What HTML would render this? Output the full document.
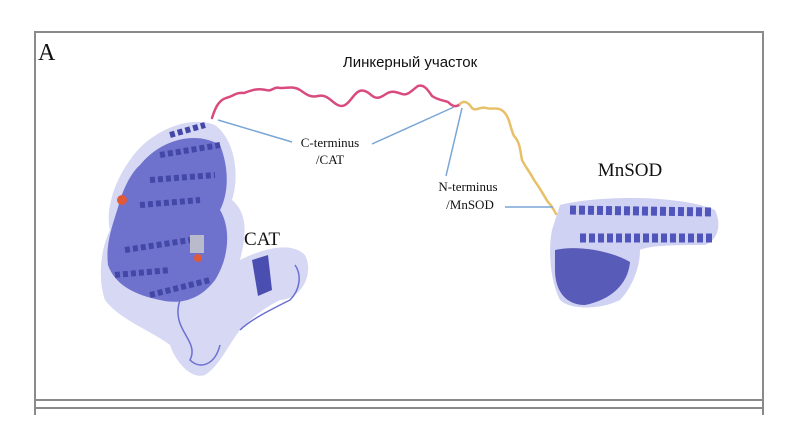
<!DOCTYPE html>
<html><head><meta charset="utf-8"><style>
body{margin:0;background:#fff;}
svg{display:block;}
</style></head><body>
<svg width="804" height="448" viewBox="0 0 804 448">
<rect width="804" height="448" fill="#fff"/>
<g fill="none" stroke="#8a8a8a" stroke-width="2">
<path d="M35,32 H763 M35,31 V415 M763,31 V415 M35,400 H763 M35,408 H763" />
</g>
<text x="38" y="60" font-family="Liberation Serif, serif" font-size="24" fill="#111">A</text>
<text x="410" y="67" text-anchor="middle" font-family="Liberation Sans, sans-serif" font-size="15" fill="#111">Линкерный участок</text>

<g fill="none" stroke-width="2.5" stroke-linecap="round">
<path stroke="#d94a7e" d="M212,118 C216,105 220,100 226,98 C234,96 236,92 244,93 C252,90 258,88 266,90 C272,92 274,86 280,88 C288,88 294,86 300,90 C306,94 310,98 318,96 C326,94 330,100 336,104 C342,108 346,106 352,98 C358,90 362,88 370,94 C376,100 380,98 386,94 C392,90 396,92 402,94 C408,96 412,90 418,86 C424,84 428,90 432,96 C438,100 442,100 448,102 C452,106 456,108 460,104"/>
<path stroke="#e8c06a" d="M460,104 C464,100 468,102 472,108 C476,112 480,106 486,108 C492,110 498,106 504,112 C510,118 510,128 514,136 C520,142 520,150 522,160 C526,168 530,172 534,180 C540,188 544,196 548,202 C552,206 554,210 556,214"/>
</g>

<g stroke="#7aa6d6" stroke-width="1.5" fill="none">
<path d="M218,120 L292,142"/>
<path d="M372,144 L454,107"/>
<path d="M462,108 L446,176"/>
<path d="M505,207 L553,207"/>
</g>

<text x="330" y="147" text-anchor="middle" font-family="Liberation Serif, serif" font-size="13" fill="#111">C-terminus</text>
<text x="330" y="164" text-anchor="middle" font-family="Liberation Serif, serif" font-size="13" fill="#111">/CAT</text>
<text x="468" y="191" text-anchor="middle" font-family="Liberation Serif, serif" font-size="13" fill="#111">N-terminus</text>
<text x="470" y="209" text-anchor="middle" font-family="Liberation Serif, serif" font-size="13" fill="#111">/MnSOD</text>
<text x="262" y="245" text-anchor="middle" font-family="Liberation Serif, serif" font-size="19" fill="#111">CAT</text>
<text x="630" y="176" text-anchor="middle" font-family="Liberation Serif, serif" font-size="19" fill="#111">MnSOD</text>

<g>
<path fill="#8a8fe0" opacity="0.35" d="M130,160 C150,130 190,115 215,125 C235,140 240,175 232,200 C250,215 245,240 240,260 C260,250 290,240 305,255 C315,275 300,300 280,300 C260,310 250,320 240,330 C225,350 220,365 205,375 C190,380 175,360 170,345 C150,330 120,320 105,300 C98,280 100,250 110,230 C105,210 115,180 130,160 Z"/>
<path fill="#5c60c4" opacity="0.85" d="M140,165 C160,140 195,130 220,145 C230,170 228,195 220,210 C232,230 228,260 215,280 C200,300 180,305 160,300 C135,295 115,285 108,265 C105,240 115,220 120,200 C125,185 132,172 140,165 Z"/>
<path fill="#4a4eb0" d="M252,260 L268,255 L272,290 L258,296 Z"/>
<path fill="none" stroke="#4347a8" stroke-width="6" stroke-dasharray="5 3" d="M170,135 L205,125 M160,155 L220,145 M150,180 L215,175 M140,205 L200,200 M125,250 L190,240 M115,275 L170,270 M150,295 L210,280"/>
<path fill="none" stroke="#6b6fd0" stroke-width="1.5" d="M180,300 C170,330 200,340 190,360 C200,370 215,365 220,345 M240,330 C250,320 270,310 290,300 C300,290 302,275 295,265"/>
<circle cx="122" cy="200" r="5" fill="#e05a3a"/>
<circle cx="198" cy="258" r="4" fill="#e05a3a"/>
<rect x="190" y="235" width="14" height="18" fill="#ccc" opacity="0.8"/>
</g>

<g>
<path fill="#8a8fe0" opacity="0.4" d="M560,205 C600,195 680,195 715,210 C722,225 718,240 705,245 C680,245 650,245 640,250 C640,270 630,290 620,300 C600,310 570,310 560,300 C550,280 548,250 552,230 Z"/>
<path fill="none" stroke="#5055bb" stroke-width="9" stroke-dasharray="6 3" d="M570,210 L712,212 M580,238 L712,238"/>
<path fill="#4a4eb0" opacity="0.9" d="M555,250 C575,245 610,250 630,262 C628,285 610,300 585,305 C565,305 555,290 555,270 Z"/>
</g>
</svg>
</body></html>
